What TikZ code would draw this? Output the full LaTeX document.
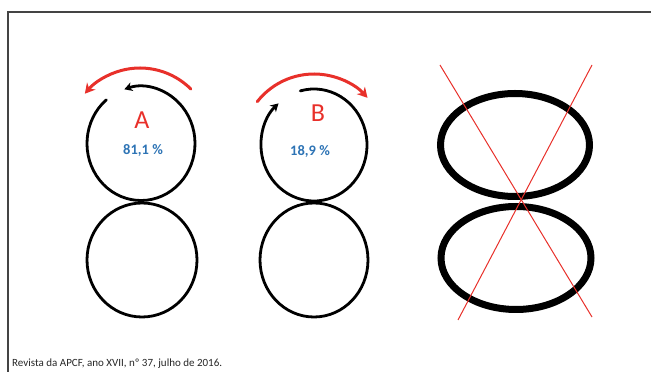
\documentclass[tikz,border=0pt]{standalone}
\usepackage{fontspec}
\setmainfont{Carlito}
\usetikzlibrary{arrows.meta}
\definecolor{figred}{HTML}{E8302A}
\definecolor{figblue}{HTML}{2E74B5}
\definecolor{framegray}{HTML}{444444}
\tikzset{
  loop/.style={line width=2.8pt, black, line cap=round},
  bigloop/.style={line width=7pt, black},
  redarc/.style={line width=3pt, figred, line cap=round, -{Stealth[length=10pt,width=11pt]}},
  blackarc/.style={loop, -{Stealth[length=8pt,width=9pt]}},
  cross/.style={line width=1pt, figred},
  letter/.style={text=figred, font=\fontsize{26}{26}\selectfont, inner sep=0pt},
  pct/.style={text=figblue, font=\bfseries\fontsize{14.5}{14.5}\selectfont, inner sep=0pt},
  caption/.style={text=black!85, font=\fontsize{11}{11}\selectfont, inner sep=0pt, anchor=base west}
}
\begin{document}
\begin{tikzpicture}[x=1pt,y=1pt]
\useasboundingbox (0,0) rectangle (651,372);
% frame
\draw[framegray, line width=1.6pt] (8,0) -- (8,360) -- (651,360);
% ---- A ----
\coordinate (ctopA) at (141,228.5);
\coordinate (cbotA) at (142,112);
\draw[blackarc] ([shift={(130:54pt and 57pt)}]ctopA) arc[start angle=130, end angle=468, x radius=54, y radius=57];
\draw[loop] (cbotA) ellipse[x radius=55, y radius=57];
\coordinate (credA) at (140,232);
\draw[redarc] ([shift={(45:72pt)}]credA) arc[start angle=45, end angle=140, radius=72];
\node[letter] (lA) at (142,252) {A};
\node[pct] (pA) at (143,222) {81,1 \%};
% ---- B ----
\coordinate (ctopB) at (314,227);
\coordinate (cbotB) at (314,112);
\draw[blackarc] ([shift={(105:53pt and 56pt)}]ctopB) arc[start angle=105, end angle=-228, x radius=53, y radius=56];
\draw[loop] (cbotB) ellipse[x radius=54, y radius=57];
\coordinate (credB) at (314,226);
\draw[redarc] ([shift={(142:72pt)}]credB) arc[start angle=142, end angle=42, radius=72];
\node[letter] (lB) at (318,259) {B};
\node[pct] (pB) at (310,221) {18,9 \%};
% ---- crossed figure ----
\draw[bigloop] (515,227) ellipse[x radius=74.5, y radius=51.5];
\draw[bigloop] (516,114) ellipse[x radius=75, y radius=51.5];
\coordinate (x1a) at (440,307);
\coordinate (x1b) at (592,55);
\coordinate (x2a) at (592,307);
\coordinate (x2b) at (458,52);
\draw[cross] (x1a) -- (x1b);
\draw[cross] (x2a) -- (x2b);
% caption
\node[caption] (cap) at (12,5) {Revista da APCF, ano XVII, nº 37, julho de 2016.};
\end{tikzpicture}
\end{document}
